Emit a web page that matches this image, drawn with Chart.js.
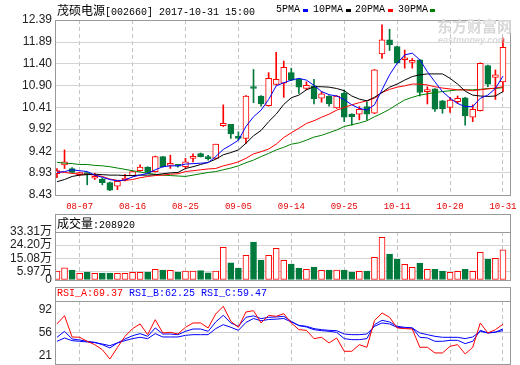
<!DOCTYPE html>
<html><head><meta charset="utf-8">
<script src="https://cdn.jsdelivr.net/npm/chart.js@4.4.1/dist/chart.umd.min.js"></script>
<style>
html,body{margin:0;padding:0;background:#fff;}
#wrap{position:relative;width:520px;height:365px;overflow:hidden;background:#fff;}
canvas{position:absolute;left:0;}
.t{position:absolute;white-space:nowrap;color:#000;}
.mono{font-family:"Liberation Mono","DejaVu Sans Mono",monospace;font-size:10px;}
.cjk{font-family:"Noto Sans CJK SC",sans-serif;font-size:12px;}
.box{position:absolute;left:55px;width:456px;box-sizing:border-box;border:1px solid #999;border-bottom:none;}
.sq{position:absolute;width:5px;height:3px;top:9px;}
.wm{position:absolute;color:#d9d9d9;font-weight:bold;white-space:nowrap;}
</style></head><body>
<div id="wrap">
 <canvas id="cP" width="520" height="215" style="top:0px"></canvas>
 <canvas id="cV" width="520" height="70" style="top:214px"></canvas>
 <canvas id="cR" width="520" height="78" style="top:287px"></canvas>
 <div class="wm" style="left:437px;top:17px;font-family:'Noto Sans CJK SC';font-size:15px;line-height:18px;">东方财富网</div>
 <div class="wm" style="left:438px;top:35px;font-family:'Liberation Sans';font-size:9px;line-height:10px;font-style:italic;">eastmoney.com</div>
 <div class="t" style="left:57px;top:2px;line-height:15px;"><span class="cjk">茂硕电源</span><span class="mono">[002660] 2017-10-31 15:00</span></div>
 <div class="t mono" style="left:276px;top:2px;line-height:15px;">5PMA</div><div class="sq" style="left:303px;background:#0000ff"></div>
 <div class="t mono" style="left:313px;top:2px;line-height:15px;">10PMA</div><div class="sq" style="left:346px;background:#000"></div>
 <div class="t mono" style="left:355px;top:2px;line-height:15px;">20PMA</div><div class="sq" style="left:388px;background:#ff0000"></div>
 <div class="t mono" style="left:398px;top:2px;line-height:15px;">30PMA</div><div class="sq" style="left:430px;background:#008000"></div>
 <div class="box" style="top:214px;height:19px;"></div>
 <div class="t" style="left:57px;top:214px;line-height:18px;"><span class="cjk">成交量</span><span class="mono" id="volHdr"></span></div>
 <div class="box" style="top:287px;height:15px;"></div>
 <div class="t mono" style="left:57px;top:287px;line-height:14px;"><span id="hA" style="color:#f00"></span> <span id="hB" style="color:#00f"></span> <span id="hC" style="color:#00f"></span></div>
</div>
<script>
const dates = ['08-02','08-03','08-04','08-07','08-08','08-09','08-10','08-11','08-14','08-15','08-16','08-17','08-18','08-21','08-22','08-23','08-24','08-25','08-28','08-29','08-30','08-31','09-01','09-04','09-05','09-06','09-07','09-08','09-11','09-12','09-13','09-14','09-15','09-18','09-19','09-20','09-21','09-22','09-25','09-26','09-27','09-28','09-29','10-09','10-10','10-11','10-12','10-13','10-16','10-17','10-18','10-19','10-20','10-23','10-24','10-25','10-26','10-27','10-30','10-31'];
const dateTicks = ['08-07','08-16','08-25','09-05','09-14','09-25','10-11','10-20','10-31'];
const opens  = [8.91,9.11,9.03,8.89,8.92,8.81,8.79,8.71,8.63,8.77,8.87,8.98,9.06,8.96,9.30,9.10,9.11,9.07,9.26,9.37,9.30,9.26,10.00,10.03,9.75,9.71,10.87,10.67,10.45,10.93,10.96,11.20,11.05,10.84,10.90,10.62,10.67,10.40,10.73,10.26,10.26,10.43,10.28,11.62,11.94,11.79,11.49,11.43,11.49,10.77,10.83,10.56,10.41,10.54,10.63,10.19,10.34,11.36,11.09,10.99];
const highs  = [9.03,9.45,9.05,8.95,8.93,8.92,8.81,8.72,8.75,8.90,8.97,9.11,9.07,9.31,9.30,9.33,9.12,9.26,9.36,9.38,9.33,9.58,10.47,10.03,9.86,10.68,11.27,10.68,11.20,11.66,11.46,11.30,11.06,10.99,11.05,10.77,10.68,10.68,10.81,10.27,10.43,10.54,11.27,12.28,12.18,11.80,11.71,11.52,11.50,10.88,10.84,10.57,10.64,10.67,10.64,10.47,11.42,11.37,11.26,11.98];
const lows   = [8.82,9.03,8.93,8.87,8.66,8.78,8.66,8.53,8.55,8.75,8.86,8.97,8.93,8.95,9.06,9.03,9.06,9.03,9.18,9.29,9.22,9.25,9.98,9.71,9.67,9.60,10.52,10.44,10.44,10.92,10.64,11.02,10.73,10.81,10.49,10.53,10.44,10.39,10.09,10.01,10.13,10.13,10.27,11.52,11.70,11.41,11.30,11.30,10.67,10.49,10.32,10.28,10.30,10.50,10.01,10.09,10.33,10.88,10.59,10.77];
const closes = [8.98,9.18,8.94,8.93,8.89,8.84,8.71,8.54,8.74,8.81,8.96,9.06,8.94,9.30,9.07,9.13,9.08,9.18,9.29,9.30,9.25,9.58,10.05,9.81,9.71,10.67,10.84,10.49,11.07,11.05,11.32,11.03,10.87,10.91,10.61,10.72,10.49,10.67,10.19,10.20,10.37,10.26,11.26,11.94,11.83,11.42,11.52,11.45,10.75,10.79,10.37,10.38,10.58,10.62,10.22,10.37,11.41,10.94,11.15,11.77];
const ma5  = [8.94,8.96,9.00,8.98,8.96,8.88,8.83,8.78,8.75,8.77,8.84,8.88,8.92,9.00,9.07,9.09,9.09,9.13,9.14,9.15,9.16,9.30,9.46,9.56,9.67,9.98,10.20,10.35,10.59,10.90,10.97,11.03,11.07,11.03,10.91,10.77,10.70,10.67,10.59,10.47,10.39,10.35,10.47,10.81,11.15,11.41,11.60,11.64,11.49,11.22,10.99,10.77,10.62,10.50,10.43,10.43,10.62,10.69,10.84,11.12];
const ma10 = [8.73,8.78,8.85,8.88,8.89,8.90,8.89,8.88,8.88,8.87,8.87,8.88,8.88,8.89,8.91,8.93,8.94,9.03,9.07,9.12,9.17,9.24,9.34,9.39,9.45,9.60,9.77,9.89,10.09,10.26,10.48,10.63,10.69,10.81,10.88,10.88,10.87,10.84,10.79,10.67,10.60,10.56,10.64,10.75,10.87,10.94,11.03,11.11,11.15,11.17,11.17,11.17,11.07,10.94,10.78,10.69,10.67,10.66,10.67,10.77];
const ma20 = [8.96,8.94,8.92,8.90,8.90,8.88,8.85,8.79,8.76,8.76,8.78,8.82,8.85,8.87,8.88,8.90,8.91,8.96,8.98,9.00,9.02,9.03,9.09,9.13,9.18,9.26,9.36,9.41,9.47,9.58,9.73,9.84,9.94,10.05,10.11,10.19,10.26,10.35,10.41,10.47,10.52,10.56,10.62,10.75,10.82,10.87,10.90,10.94,10.94,10.92,10.88,10.85,10.83,10.81,10.81,10.79,10.81,10.83,10.85,10.88];
const ma30 = [9.17,9.15,9.14,9.12,9.12,9.10,9.09,9.07,9.04,9.01,8.98,8.95,8.92,8.90,8.88,8.87,8.86,8.85,8.88,8.91,8.94,8.96,9.00,9.04,9.09,9.16,9.22,9.30,9.37,9.45,9.51,9.58,9.61,9.67,9.74,9.78,9.84,9.90,9.98,10.02,10.06,10.11,10.20,10.28,10.37,10.48,10.58,10.64,10.69,10.72,10.75,10.77,10.79,10.81,10.81,10.81,10.82,10.84,10.84,10.86];
const volWan = [6.2,8.5,6.9,4.6,5.55,4.6,4.86,4.86,4.6,4.6,5.3,5.3,5.55,7.4,6.9,6.7,5.55,6.2,6.2,6.5,4.9,6.2,22.7,12.0,8.3,17.1,26.4,13.9,17.1,22.0,13.7,11.1,8.3,7.4,9.0,6.7,6.9,6.9,6.9,5.55,6.0,6.2,15.7,29.6,18.0,14.4,10.9,8.8,11.8,7.4,7.4,6.2,5.3,6.0,7.4,6.0,19.2,14.4,15.0,20.892];
const rsiA = [69.7,82.3,49.9,49.4,43.3,38.2,30.6,16.4,34.0,50.9,62.6,69.7,53.4,76.2,56.0,57.0,54.4,64.6,71.2,71.2,63.6,84.9,96.5,73.7,64.6,87.9,89.9,71.2,82.8,81.3,85.4,71.2,61.0,60.0,47.4,49.4,40.8,48.4,28.1,28.1,38.2,34.2,74.7,86.4,79.8,63.6,62.6,62.0,34.2,34.2,25.6,25.6,35.7,38.2,24.0,34.2,71.2,56.0,61.0,69.37];
const rsiB = [49.4,58.5,46.8,45.3,43.3,41.8,38.2,33.2,40.8,46.8,51.9,55.0,50.9,63.6,54.4,54.4,53.4,58.5,62.0,62.0,58.5,72.7,82.8,71.2,66.1,79.8,82.0,77.8,79.8,80.3,81.3,73.7,67.1,65.1,61.0,59.5,58.5,57.0,47.4,45.8,45.8,47.4,68.6,75.2,72.7,66.1,64.6,63.6,49.4,48.4,43.3,43.3,44.8,44.8,39.8,43.3,60.0,56.0,57.0,62.25];
const rsiC = [43.3,48.4,44.3,43.3,42.3,41.3,39.2,36.7,40.8,44.3,47.4,49.4,47.4,55.0,49.9,49.9,49.9,52.4,53.4,53.4,53.4,62.6,68.6,64.6,60.0,72.0,78.0,74.5,76.5,77.0,78.0,72.7,67.6,66.1,62.6,61.0,60.0,59.5,54.4,53.4,53.4,54.4,66.1,71.2,69.7,64.6,63.6,63.6,56.0,53.4,50.9,49.4,49.4,49.4,47.4,49.9,58.5,56.0,57.5,59.47];
const priceTicks = ['8.43','8.93','9.42','9.92','10.41','10.90','11.40','11.89','12.39'];
const volTickVals = [0,5.97,15.08,24.20,33.31];
const volTickLabels = ['0','5.97万','15.08万','24.20万','33.31万'];
const rsiTicks = [21,56,92];

const RED='#ff0000', GRN='#00793d', BLUE='#0000ff';
const idx = dates.map((d,i)=>i);
const up = idx.map(i => closes[i] >= opens[i]);
const tickPos = dateTicks.map(d => dates.indexOf(d));

document.getElementById('volHdr').textContent = ':' + Math.round(volWan[volWan.length-1]*10000);
document.getElementById('hA').textContent = 'RSI_A:' + rsiA[rsiA.length-1].toFixed(2);
document.getElementById('hB').textContent = 'RSI_B:' + rsiB[rsiB.length-1].toFixed(2);
document.getElementById('hC').textContent = 'RSI_C:' + rsiC[rsiC.length-1].toFixed(2);

const frame = { id:'frame', afterDraw(c){ const a=c.chartArea, ctx=c.ctx; ctx.save(); ctx.strokeStyle='#999'; ctx.lineWidth=1; ctx.strokeRect(a.left+0.5,a.top+0.5,a.right-a.left,a.bottom-a.top); ctx.restore(); } };

function xScale(labels){
  return { type:'linear', min:-0.26, max:59.93, bounds:'data', offset:false,
    afterBuildTicks: s => { s.ticks = tickPos.map(v=>({value:v})); },
    afterFit: s => { s.height = labels?20:0; s.paddingLeft=0; s.paddingRight=0; },
    grid:{color:'#c4c4c4', drawTicks:false, offset:false},
    border:{display:false, dash:[4,3]},
    ticks:{display:labels, autoSkip:false, maxRotation:0, padding:6, color:'#e60000',
      font:{family:"'Liberation Mono', monospace", size:9}, callback:v=>dates[v]}
  };
}
function yBase(min,max,vals,labels,gridColor){
  return { type:'linear', min:min, max:max, bounds:'data', grace:0,
    afterBuildTicks: s => { s.ticks = vals.map(v=>({value:v})); },
    afterFit: s => { s.width = 55; s.paddingTop=0; s.paddingBottom=0; },
    grid:{color:gridColor, drawTicks:false},
    border:{display:false},
    ticks:{color:'#222', padding:3, autoSkip:false, font:{family:"'Liberation Sans', 'Noto Sans CJK SC', sans-serif", size:12}, callback:(v,i)=>labels[i]}
  };
}
const common = { responsive:false, animation:false, devicePixelRatio:1, events:[],
  plugins:{legend:{display:false}, tooltip:{enabled:false}} };
const line = (arr,color,order)=>({type:'line', data:idx.map(i=>({x:i,y:arr[i]})), borderColor:color, borderWidth:1, pointRadius:0, tension:0, fill:false, order:order});

new Chart(document.getElementById('cP'), {
  type:'bar',
  data:{datasets:[
    line(ma5,BLUE,1), line(ma10,'#000000',2), line(ma20,RED,3), line(ma30,'#008000',4),
    {type:'bar', data:idx.map(i=>({x:i,y:[opens[i],closes[i]]})), backgroundColor:idx.map(i=>up[i]?'#ffffff':GRN),
      borderColor:idx.map(i=>up[i]?RED:GRN), borderWidth:1, borderSkipped:false, barThickness:6, minBarLength:2, grouped:false, order:5},
    {type:'bar', data:idx.map(i=>({x:i,y:[lows[i],highs[i]]})), backgroundColor:idx.map(i=>up[i]?RED:GRN),
      borderWidth:0, barThickness:1, grouped:false, order:6}
  ]},
  options:Object.assign({}, common, {
    layout:{padding:{top:20,right:10,bottom:0,left:0}, autoPadding:false},
    scales:{ x:xScale(true), y:yBase(8.43,12.39,priceTicks.map(parseFloat),priceTicks,'#d4d4d4') }
  }),
  plugins:[frame]
});

new Chart(document.getElementById('cV'), {
  type:'bar',
  data:{datasets:[
    {data:idx.map(i=>({x:i,y:volWan[i]})), backgroundColor:idx.map(i=>up[i]?'#ffffff':GRN),
      borderColor:idx.map(i=>up[i]?RED:GRN), borderWidth:1, borderSkipped:false, barThickness:6, grouped:false}
  ]},
  options:Object.assign({}, common, {
    layout:{padding:{top:18,right:10,bottom:4,left:0}, autoPadding:false},
    scales:{ x:xScale(false), y:yBase(0,33.31,volTickVals,volTickLabels,'#d4d4d4') }
  }),
  plugins:[frame]
});

const yR = yBase(8.8,104.6,rsiTicks,rsiTicks.map(String),'#d0d0d0');
yR.grid.color = c => (c.tick && c.tick.value===56) ? '#cfcfcf' : 'rgba(0,0,0,0)';
new Chart(document.getElementById('cR'), {
  type:'line',
  data:{datasets:[ line(rsiA,RED,1), line(rsiB,BLUE,2), line(rsiC,BLUE,3) ]},
  options:Object.assign({}, common, {
    layout:{padding:{top:14,right:10,bottom:1,left:0}, autoPadding:false},
    scales:{ x:xScale(false), y:yR }
  }),
  plugins:[frame]
});
</script>
</body></html>
